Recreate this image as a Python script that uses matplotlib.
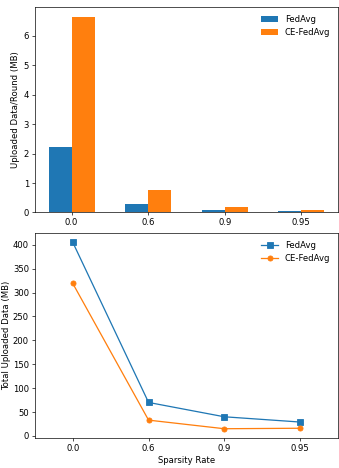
import numpy as np
import matplotlib.pyplot as plt

# ── Data ─────────────────────────────────────────────────────────────────────
sparsity = ["0.0", "0.6", "0.9", "0.95"]
per_round_fedavg = [2.22, 0.30, 0.10, 0.05]
per_round_cefedavg = [6.65, 0.76, 0.19, 0.10]
total_fedavg = [405, 70, 40, 29]
total_cefedavg = [319, 33, 15, 16]

DPI = 61
fig = plt.figure(figsize=(339 / DPI, 468 / DPI), dpi=DPI)

x = np.arange(len(sparsity))
w = 0.3

# ── Top: per-round upload ────────────────────────────────────────────────────
ax1 = fig.add_axes([0.103, 0.546, 0.894, 0.439])
ax1.bar(x - w / 2, per_round_fedavg, w, label="FedAvg")
ax1.bar(x + w / 2, per_round_cefedavg, w, label="CE-FedAvg")
ax1.set_xticks(x)
ax1.set_xticklabels(sparsity)
ax1.set_ylabel("Uploaded Data/Round (MB)")
ax1.legend(frameon=False, loc="upper right")

# ── Bottom: total upload ─────────────────────────────────────────────────────
ax2 = fig.add_axes([0.103, 0.064, 0.894, 0.438])
ax2.plot(x, total_fedavg, marker="s", label="FedAvg")
ax2.plot(x, total_cefedavg, marker="o", label="CE-FedAvg")
ax2.set_xticks(x)
ax2.set_xticklabels(sparsity)
ax2.set_xlim(-0.5, 3.5)
ax2.set_xlabel("Sparsity Rate")
ax2.set_ylabel("Total Uploaded Data (MB)", labelpad=2)
ax2.legend(frameon=False, loc="upper right")

fig.savefig("out.png", dpi=DPI)
